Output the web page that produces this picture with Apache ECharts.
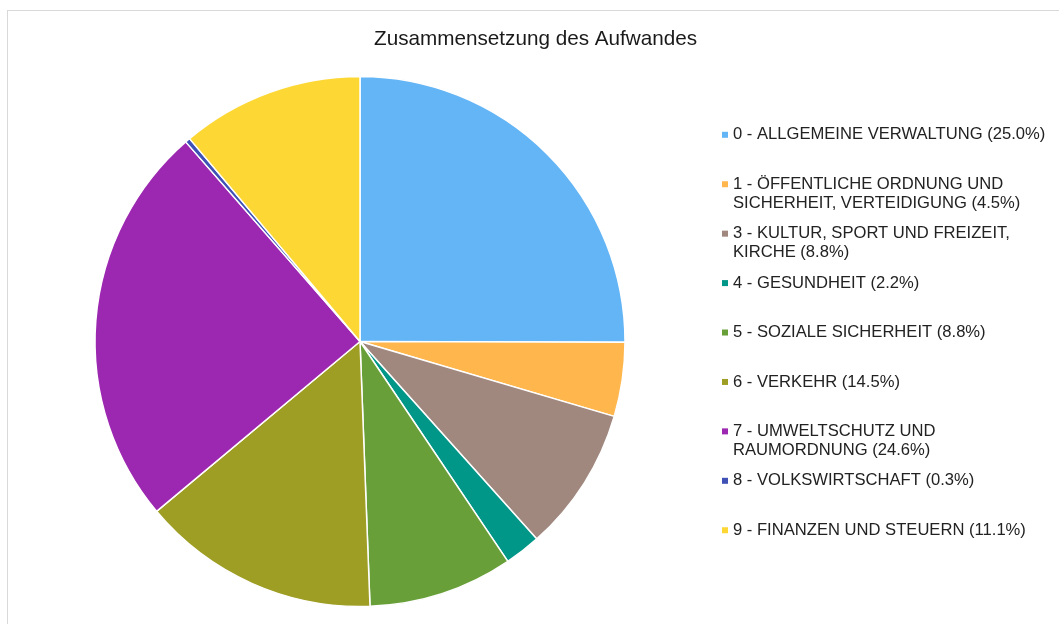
<!DOCTYPE html>
<html>
<head>
<meta charset="utf-8">
<script src="https://cdn.jsdelivr.net/npm/echarts@6/dist/echarts.min.js"></script>
<style>
	body { margin: 0; background: #fff; }
	#frame { position: absolute; left: 7px; top: 10px; width: 1100px; height: 700px; border: 1px solid #d9d9d9; }
	#chart { position: absolute; left: 0; top: 0; width: 1059px; height: 624px; }
</style>
</head>
<body>
<div id="frame"></div>
<div id="chart"></div>
<script>
	var categories = [
		'0 - ALLGEMEINE VERWALTUNG',
		'1 - ÖFFENTLICHE ORDNUNG UND SICHERHEIT, VERTEIDIGUNG',
		'3 - KULTUR, SPORT UND FREIZEIT, KIRCHE',
		'4 - GESUNDHEIT',
		'5 - SOZIALE SICHERHEIT',
		'6 - VERKEHR',
		'7 - UMWELTSCHUTZ UND RAUMORDNUNG',
		'8 - VOLKSWIRTSCHAFT',
		'9 - FINANZEN UND STEUERN'
	];
	var shares = [25.0, 4.5, 8.8, 2.2, 8.8, 14.5, 24.6, 0.3, 11.1];
	var colors = ['#64b5f6', '#ffb74d', '#a1887f', '#009688', '#689f38', '#9e9d24', '#9c27b0', '#3f51b5', '#fdd835'];

	var fontFamily = 'Liberation Sans';
	var legendSize = 16.6;
	var lineH = 19;

	// measure text to wrap legend labels like the original
	var ctx = document.createElement('canvas').getContext('2d');
	ctx.font = legendSize + 'px "' + fontFamily + '"';
	function wrap(text, maxW) {
		var words = text.split(' ');
		var lines = [];
		var cur = '';
		for (var i = 0; i < words.length; i++) {
			var t = cur ? cur + ' ' + words[i] : words[i];
			if (cur && ctx.measureText(t).width > maxW) {
				lines.push(cur);
				cur = words[i];
			} else {
				cur = t;
			}
		}
		lines.push(cur);
		return lines;
	}

	var texts = {};
	var legends = [];
	for (var i = 0; i < categories.length; i++) {
		var lines = wrap(categories[i] + ' (' + shares[i].toFixed(1) + '%)', 320);
		var n = lines.length;
		// leading empty lines keep the marker on the first line
		texts[categories[i]] = new Array(n).join('\n') + lines.join('\n');
		var mid = 134.8 + 49.43 * i;
		legends.push({
			data: [categories[i]],
			orient: 'vertical',
			left: 722,
			top: mid - (2 * n - 1) * lineH / 2,
			padding: 0,
			icon: 'rect',
			itemWidth: 6,
			itemHeight: 6,
			itemStyle: { borderWidth: 0 },
			formatter: function(name) {
				return texts[name];
			},
			textStyle: {
				fontFamily: fontFamily,
				fontSize: legendSize,
				lineHeight: lineH,
				color: '#222'
			}
		});
	}

	var data = [];
	for (var j = 0; j < categories.length; j++) {
		data.push({ name: categories[j], value: shares[j] });
	}

	var chart = echarts.init(document.getElementById('chart'));
	chart.setOption({
		animation: false,
		color: colors,
		title: {
			text: 'Zusammensetzung des Aufwandes',
			left: 374,
			top: 29,
			padding: 0,
			textStyle: {
				fontFamily: fontFamily,
				fontSize: 20.7,
				fontWeight: 'normal',
				color: '#1a1a1a'
			}
		},
		legend: legends,
		series: [{
			type: 'pie',
			center: [360, 341.5],
			radius: 265,
			startAngle: 90,
			clockwise: true,
			label: { show: false },
			labelLine: { show: false },
			emphasis: { scale: false },
			itemStyle: {
				borderColor: '#fff',
				borderWidth: 1.5
			},
			data: data
		}]
	});
</script>
</body>
</html>
